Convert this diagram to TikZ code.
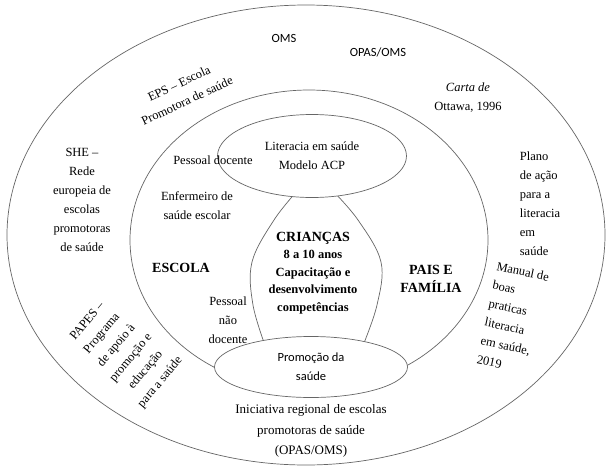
\documentclass[tikz,border=0pt]{standalone}
\usepackage{fontspec}
\setmainfont{Liberation Serif}
\newfontfamily\sansc{Carlito}
\usetikzlibrary{shapes.geometric}
\begin{document}
\begin{tikzpicture}[x=1pt,y=-1pt,
  ring/.style={draw=black!60, line width=0.7pt},
  oval/.style={ring, ellipse, inner sep=0pt},
  txt/.style={align=center, font=\fontsize{12.5}{19}\selectfont, inner sep=0pt},
  bold/.style={align=center, font=\fontsize{12.5}{17.5}\selectfont\bfseries, inner sep=0pt},
  stxt/.style={align=center, font=\sansc\fontsize{12.5}{19}\selectfont, inner sep=0pt}]
\useasboundingbox (0,0) rectangle (611,469);
\fill[white] (0,0) rectangle (611,469);
% outer and middle rings
\node[oval, minimum width=598pt, minimum height=460pt] (outer) at (306,235) {};
\node[oval, minimum width=358pt, minimum height=300pt] (middle) at (309,240) {};
% lens
\draw[ring] plot[smooth, tension=0.6] coordinates {(298,190) (274,220) (252,262) (253,305) (266,348)};
\draw[ring] plot[smooth, tension=0.6] coordinates {(332,190) (358,220) (381,262) (377,305) (362,348)};
% inner ellipses
\node[oval, fill=white, minimum width=189pt, minimum height=83pt, txt] (lit) at (312,156) {Literacia em saúde\\Modelo ACP};
\node[oval, fill=white, minimum width=193pt, minimum height=61pt, stxt] (promo) at (311,367) {Promoção da\\saúde};
% centre
\node[bold] (kids) at (313,273) {{\fontsize{14}{17}\selectfont CRIANÇAS}\\8 a 10 anos\\Capacitação e\\desenvolvimento\\competências};
\node[bold, font=\fontsize{14}{18}\selectfont\bfseries] (pais) at (431,279) {PAIS E\\FAMÍLIA};
\node[bold, font=\fontsize{14}{18}\selectfont\bfseries] (escola) at (181,268) {ESCOLA};
\node[txt] (docente) at (213,160) {Pessoal docente};
\node[txt] (enf) at (197,206) {Enfermeiro de\\saúde escolar};
\node[txt] (naodoc) at (228,320) {Pessoal\\não\\docente};
% outer ring texts
\node[stxt] (oms) at (284,38) {OMS};
\node[stxt] (opas) at (378,52) {OPAS/OMS};
\node[txt, rotate=25] (eps) at (183,92) {EPS – Escola\\Promotora de saúde};
\node[txt] (carta) at (468,98) {\itshape Carta de\\Ottawa, 1996};
\node[txt, align=left] (plano) at (540,204) {Plano\\de ação\\para a\\literacia\\em\\saúde};
\node[txt] (she) at (82,200) {SHE –\\Rede\\europeia de\\escolas\\promotoras\\de saúde};
\node[txt, align=left, rotate=-12] (manual) at (513,318) {Manual de\\boas\\praticas\\literacia\\em saúde,\\2019};
\node[txt, rotate=50] (papes) at (124,352) {PAPES –\\Programa\\de apoio à\\promoção e\\educação\\para a saúde};
\node[txt, font=\fontsize{13}{20.5}\selectfont] (irep) at (311,431) {Iniciativa regional de escolas\\promotoras de saúde\\(OPAS/OMS)};
\end{tikzpicture}
\end{document}
